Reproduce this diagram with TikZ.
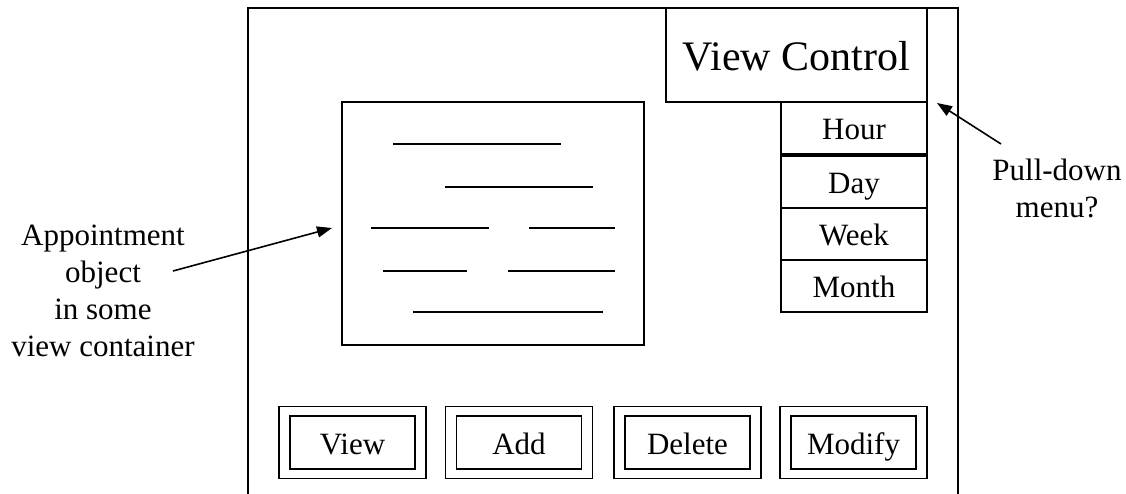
\documentclass[tikz,border=0pt]{standalone}
\usepackage{fontspec}
\setmainfont{Liberation Serif}
\usetikzlibrary{arrows.meta}
\begin{document}
\begin{tikzpicture}[x=1pt, y=-1pt, line width=1.9pt,
  box/.style={draw, rectangle, inner sep=0pt, outer sep=0pt,
              text height=23.5pt, text depth=0pt},
  txt/.style={font=\fontsize{31}{37}\selectfont},
  menuitem/.style={box, txt, minimum width=146pt, minimum height=52pt},
  btnouter/.style={box, minimum width=147pt, minimum height=72pt},
  btninner/.style={box, txt, minimum width=125pt, minimum height=53pt},
  note/.style={font=\fontsize{31}{37}\selectfont, align=center, inner sep=0pt, anchor=base},
  pointer/.style={-{Triangle[length=15pt,width=11pt]}, line width=1.6pt}
]
\useasboundingbox (0,0) rectangle (1126,494);

% window frame, open at the bottom
\draw (248,494) -- (248,8) -- (958,8) -- (958,494);

% view control and its menu
\node[box, font=\fontsize{42}{48}\selectfont, text height=31.5pt,
      minimum width=261pt, minimum height=94pt]
  (vc) at (796.5,55) {View Control};
\node[menuitem] (hour)  at (854,128) {Hour};
\node[menuitem] (day)   at (854,182) {Day};
\node[menuitem] (week)  at (854,234) {Week};
\node[menuitem] (month) at (854,286) {Month};

% appointment object with its text lines
\node[box, minimum width=302pt, minimum height=243pt] (appt) at (493,223.5) {};
\draw (393,144) -- (561,144);
\draw (445,187) -- (593,187);
\draw (371,228) -- (489,228);
\draw (529,228) -- (615,228);
\draw (383,271) -- (467,271);
\draw (508,271) -- (615,271);
\draw (413,312) -- (603,312);

% command buttons
\foreach \n/\t/\x in {bview/View/352.5, badd/Add/519, bdel/Delete/687.5, bmod/Modify/853.5}{
  \node[btnouter] (\n o) at (\x,442.5) {};
  \node[btninner] (\n) at (\x,442.5) {\t};
}

% annotations
\node[note] (pdl) at (1057,218) {Pull-down\\menu?};
\coordinate (pdtail) at (1001,144);
\coordinate (pdtip) at (937,103);
\draw[pointer] (pdtail) -- (pdtip);

\node[note] (apl) at (103,356) {Appointment\\object\\in some\\view container};
\coordinate (aptail) at (173,271);
\coordinate (aptip) at (332,228);
\draw[pointer] (aptail) -- (aptip);
\end{tikzpicture}
\end{document}
